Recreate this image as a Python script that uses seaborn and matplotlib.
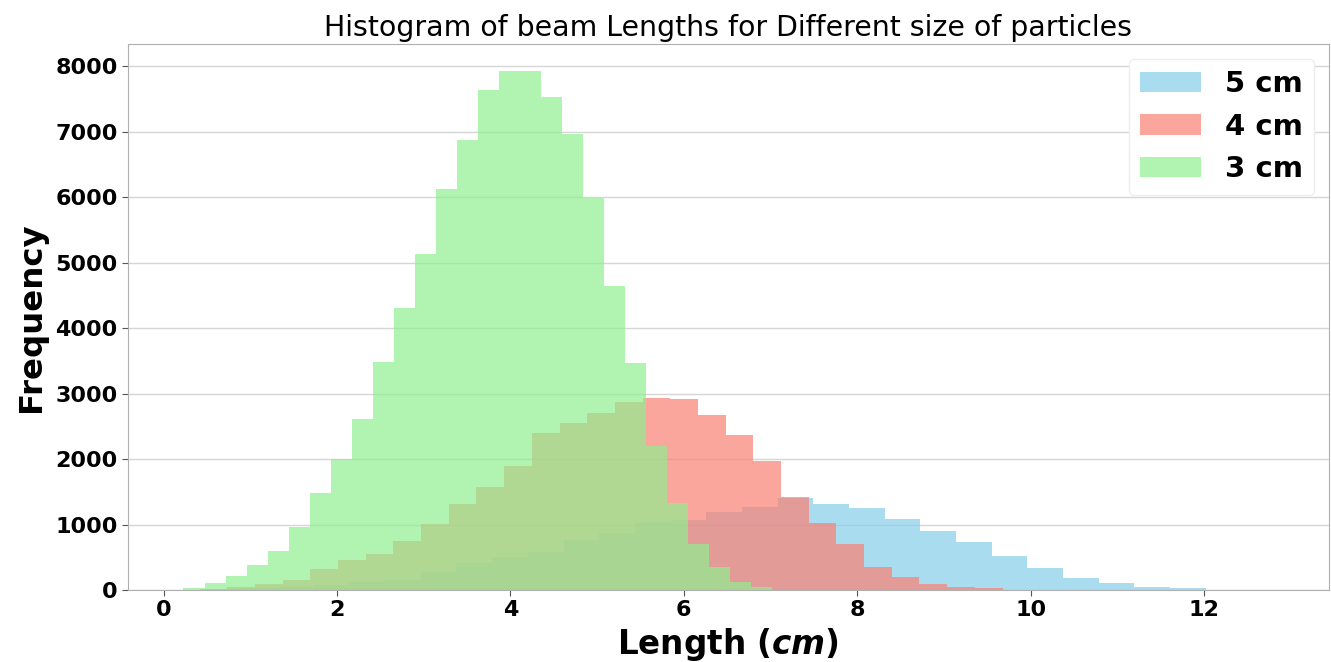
import numpy as np
import pandas as pd
import matplotlib
matplotlib.use("Agg")
import matplotlib.pyplot as plt
import seaborn as sns

# ---- data (bin edges start / width / counts) ----
labels = ["5 cm", "4 cm", "3 cm"]
colors = ["skyblue", "salmon", "lightgreen"]

blue_start, blue_width = 0.086, 0.4115
blue_counts = [3, 10, 25, 45, 75, 120, 153, 280, 408, 509,
               585, 762, 866, 1040, 1068, 1195, 1270, 1400, 1308, 1260,
               1085, 900, 728, 520, 330, 188, 112, 50, 25, 5]

red_start, red_width = 0.096, 0.3193
red_counts = [5, 20, 45, 92, 153, 316, 458, 550, 753, 1008,
              1308, 1577, 1893, 2402, 2545, 2707, 2875, 2940, 2910, 2680,
              2365, 1968, 1415, 1028, 698, 347, 203, 87, 41, 25]

green_start, green_width = 0.23, 0.2425
green_counts = [25, 100, 215, 380, 600, 965, 1475, 1995, 2605, 3490,
                4310, 5130, 6120, 6870, 7640, 7920, 7920, 7530, 6970, 5990,
                4640, 3460, 2205, 1333, 705, 356, 117, 40]

series = [(blue_start, blue_width, blue_counts),
          (red_start, red_width, red_counts),
          (green_start, green_width, green_counts)]

sns.set_style("whitegrid")
plt.rcParams['font.family'] = ['DejaVu Sans']
plt.rcParams['text.color'] = 'black'
plt.rcParams['axes.labelcolor'] = 'black'
plt.rcParams['xtick.color'] = 'black'
plt.rcParams['ytick.color'] = 'black'
plt.rcParams['mathtext.fontset'] = 'custom'
plt.rcParams['mathtext.it'] = 'DejaVu Sans:italic:bold'
plt.rcParams['mathtext.rm'] = 'DejaVu Sans:bold'

fig = plt.figure(figsize=(13.31, 6.62), dpi=100)
ax = fig.add_axes([128 / 1331, 72 / 662, (1329 - 128) / 1331, (590 - 44) / 662])

for (start, width, counts), lab, col in zip(series, labels, colors):
    n = len(counts)
    edges = start + width * np.arange(n + 1)
    centers = (edges[:-1] + edges[1:]) / 2
    df = pd.DataFrame({"x": centers, "w": np.asarray(counts, dtype=float)})
    sns.histplot(data=df, x="x", weights="w", bins=n,
                 binrange=(float(edges[0]), float(edges[-1])), color=col,
                 alpha=0.7, linewidth=0, element="bars", label=lab, ax=ax)

ax.set_xlim(-0.41, 13.44)
ax.set_ylim(0, 8340)
ax.set_xticks(range(0, 13, 2))
ax.set_yticks(range(0, 8001, 1000))
ax.grid(axis="x", visible=False)
ax.grid(axis="y", color="#d6d6d6", linewidth=1)
for s in ax.spines.values():
    s.set_color("#b0b0b0")
ax.tick_params(axis="both", which="major", bottom=True, left=True,
               length=4, color="#555555", labelsize=16, labelcolor="black")
for t in ax.get_xticklabels() + ax.get_yticklabels():
    t.set_fontweight("bold")

ax.set_title("Histogram of beam Lengths for Different size of particles",
             fontsize=20.4, pad=6, color="black")
ax.set_xlabel(r"Length ($cm$)", fontsize=23.5, fontweight="bold", labelpad=4)
ax.set_ylabel("Frequency", fontsize=23.3, fontweight="bold", labelpad=6)

leg = ax.legend(loc="upper right", prop={"size": 21, "weight": "bold"},
                frameon=True, handlelength=2.1, labelspacing=0.5,
                borderaxespad=0.5)
leg.get_frame().set_edgecolor("#eeeeee")
leg.get_frame().set_alpha(1.0)

fig.savefig("out.png", dpi=100)
